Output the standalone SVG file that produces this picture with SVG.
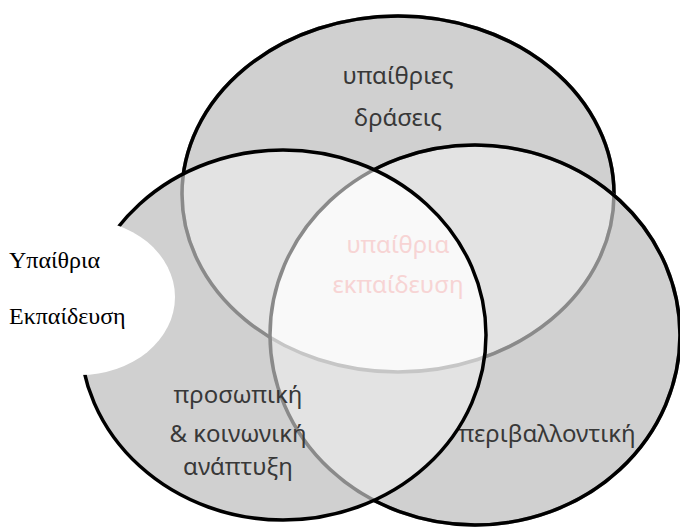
<svg xmlns="http://www.w3.org/2000/svg" width="680" height="527" viewBox="0 0 680 527">
<style>
.sans{font-family:"Noto Sans","Open Sans","DejaVu Sans",sans-serif;font-size:24px;fill:#383838;text-anchor:middle}
.pink{fill:#f7d4d4}
.serif{font-family:"Liberation Serif","DejaVu Serif",serif;font-size:24px;fill:#000}
.blk{fill:none;stroke:#000;stroke-width:3.5}
.gry{fill:none;stroke:#8a8a8a;stroke-width:3.5}
.lgry{fill:none;stroke:#c6c6c6;stroke-width:3.5}
.one{fill:#d0d0d0}
.two{fill:#e3e3e3}
.three{fill:#f9f9f9}
</style>
<defs>
<ellipse id="eT" cx="398" cy="194" rx="216" ry="178"/>
<ellipse id="eL" cx="283" cy="335" rx="203" ry="185"/>
<ellipse id="eR" cx="475" cy="335" rx="205" ry="190"/>
<clipPath id="cT"><use href="#eT"/></clipPath>
<clipPath id="cL"><use href="#eL"/></clipPath>
<mask id="mNotLR" maskUnits="userSpaceOnUse" x="0" y="0" width="680" height="527">
<rect width="680" height="527" fill="#fff"/>
<use href="#eL" fill="#000"/>
<use href="#eR" fill="#000"/>
</mask>
<mask id="mNotL" maskUnits="userSpaceOnUse" x="0" y="0" width="680" height="527">
<rect width="680" height="527" fill="#fff"/>
<use href="#eL" fill="#000"/>
</mask>
<mask id="mNotLandR" maskUnits="userSpaceOnUse" x="0" y="0" width="680" height="527">
<rect width="680" height="527" fill="#fff"/>
<g clip-path="url(#cL)"><use href="#eR" fill="#000"/></g>
</mask>
</defs>
<rect width="680" height="527" fill="#fff"/>
<g id="regions">
<use href="#eT" class="one"/>
<use href="#eR" class="one"/>
<use href="#eL" class="one"/>
<g clip-path="url(#cT)"><use href="#eL" class="two"/><use href="#eR" class="two"/></g>
<g clip-path="url(#cL)"><use href="#eR" class="two"/></g>
<g clip-path="url(#cT)"><g clip-path="url(#cL)"><use href="#eR" class="three"/></g></g>
</g>
<g id="node-top">
<use href="#eT" class="lgry"/>
<use href="#eT" class="gry" mask="url(#mNotLandR)"/>
<use href="#eT" class="blk" mask="url(#mNotLR)"/>
<text class="sans" x="398" y="84">υπαίθριες</text>
<text class="sans" x="398" y="126">δράσεις</text>
</g>
<g id="node-right">
<use href="#eR" class="gry"/>
<use href="#eR" class="blk" mask="url(#mNotL)"/>
<text class="sans" x="547" y="442">περιβαλλοντική</text>
</g>
<g id="node-left">
<use href="#eL" class="blk"/>
<text class="sans" x="238" y="403">προσωπική</text>
<text class="sans" x="238" y="442">&amp; κοινωνική</text>
<text class="sans" x="238" y="475">ανάπτυξη</text>
</g>
<g id="node-center">
<text class="sans pink" x="398" y="253">υπαίθρια</text>
<text class="sans pink" x="398" y="293">εκπαίδευση</text>
</g>
<g id="node-title">
<ellipse cx="80" cy="297" rx="95" ry="78" fill="#fff"/>
<text class="serif" x="9" y="268">Υπαίθρια</text>
<text class="serif" x="9" y="324">Εκπαίδευση</text>
</g>
<g id="connectors"/>
</svg>
